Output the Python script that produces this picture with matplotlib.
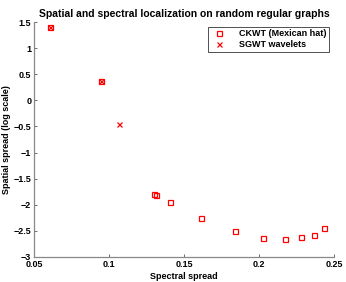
import matplotlib
matplotlib.use("Agg")
import matplotlib.pyplot as plt

ckwt_x = [0.0605, 0.0945, 0.130, 0.1315, 0.141, 0.1616, 0.1843, 0.203, 0.2174, 0.228, 0.2367, 0.2436]
ckwt_y = [1.41, 0.375, -1.79, -1.81, -1.95, -2.25, -2.51, -2.63, -2.65, -2.62, -2.57, -2.44]
sgwt_x = [0.0605, 0.0945, 0.107]
sgwt_y = [1.41, 0.375, -0.458]

xticks = [0.05, 0.1, 0.15, 0.2, 0.25]
xticklabels = ["0.05", "0.1", "0.15", "0.2", "0.25"]
yticks = [-3, -2.5, -2, -1.5, -1, -0.5, 0, 0.5, 1, 1.5]
yticklabels = ["\u22123", "\u22122.5", "\u22122", "\u22121.5", "\u22121", "\u22120.5", "0", "0.5", "1", "1.5"]

plt.rcParams['font.family'] = ['Liberation Sans', 'DejaVu Sans']
fig = plt.figure(figsize=(3.46, 2.82), dpi=100)
ax = fig.add_axes([0.0983, 0.0887, 0.8667, 0.833])

ax.plot(ckwt_x, ckwt_y, linestyle='none', marker='s', markersize=3.6,
        markerfacecolor='none', markeredgecolor='#ff0000', markeredgewidth=0.9,
        label='CKWT (Mexican hat)')
ax.plot(sgwt_x, sgwt_y, linestyle='none', marker='x', markersize=3.6,
        color='#ff0000', markeredgewidth=0.9, label='SGWT wavelets')

ax.set_xlim(0.05, 0.25)
ax.set_ylim(-3, 1.5)
ax.set_xticks(xticks)
ax.set_xticklabels(xticklabels, fontsize=6.5, fontweight='bold')
ax.set_yticks(yticks)
ax.set_yticklabels(yticklabels, fontsize=6.5, fontweight='bold')
ax.tick_params(direction='in', length=2.5, width=0.6, color='#555555', pad=2)
for s in ['top', 'right']:
    ax.spines[s].set_visible(False)
for s in ['left', 'bottom']:
    ax.spines[s].set_color('#888888')
    ax.spines[s].set_linewidth(0.9)

ax.set_xlabel('Spectral spread', fontsize=6.5, fontweight='bold', labelpad=2)
ax.set_ylabel('Spatial spread (log scale)', fontsize=6.5, fontweight='bold', labelpad=2)
ax.set_title('Spatial and spectral localization on random regular graphs',
             fontsize=7.5, fontweight='bold', pad=4)

leg = ax.legend(loc='upper right', fontsize=6.5, frameon=True, fancybox=False,
                borderpad=0.3, handletextpad=1.2, labelspacing=0.2,
                bbox_to_anchor=(1.0, 1.0), prop={'weight': 'bold', 'size': 6.5})
leg.get_frame().set_edgecolor('black')
leg.get_frame().set_linewidth(0.6)

fig.savefig('out.png', dpi=100)
